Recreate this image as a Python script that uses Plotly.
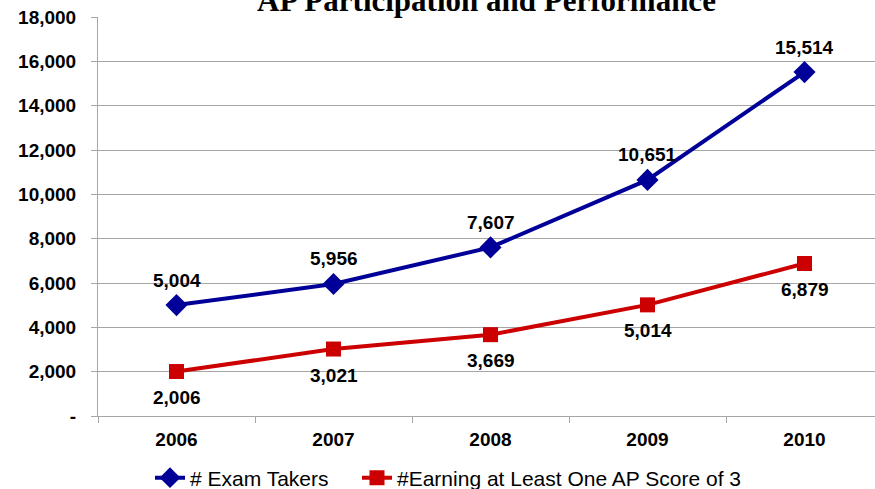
import plotly.graph_objects as go

years = ["2006", "2007", "2008", "2009", "2010"]
exam_takers = [5004, 5956, 7607, 10651, 15514]
earning_3 = [2006, 3021, 3669, 5014, 6879]
y_ticks = [0, 2000, 4000, 6000, 8000, 10000, 12000, 14000, 16000, 18000]
y_tick_text = ["-", "2,000", "4,000", "6,000", "8,000", "10,000", "12,000", "14,000", "16,000", "18,000"]

BLUE = "#000099"
RED = "#CC0000"
GRAY = "#A6A6A6"
SANS = "Liberation Sans, Arial, sans-serif"
LABEL_FONT = dict(family=SANS, size=19, color="#000000")

fig = go.Figure()
fig.add_trace(go.Scatter(
    x=years, y=exam_takers, name="# Exam Takers",
    mode="lines+markers",
    line=dict(color=BLUE, width=4),
    marker=dict(symbol="diamond", size=17, color=BLUE),
    cliponaxis=False, legend="legend",
))
fig.add_trace(go.Scatter(
    x=years, y=earning_3, name="#Earning at Least One AP Score of 3",
    mode="lines+markers",
    line=dict(color=RED, width=4),
    marker=dict(symbol="square", size=15, color=RED),
    cliponaxis=False, legend="legend2",
))

# value labels: above the blue points, below the red points
# (x given as the category index so "2006" isn't read as a position)
for i, v in enumerate(exam_takers):
    fig.add_annotation(x=i, y=v, text=f"<b>{v:,}</b>", showarrow=False,
                       yshift=25, font=LABEL_FONT)
for i, v in enumerate(earning_3):
    fig.add_annotation(x=i, y=v, text=f"<b>{v:,}</b>", showarrow=False,
                       yshift=-26, font=LABEL_FONT)

fig.add_annotation(
    text="<b>AP Participation and Performance</b>",
    xref="paper", yref="paper", x=0.5, y=1, xanchor="center", yanchor="bottom",
    yshift=-3, showarrow=False,
    font=dict(family="Liberation Serif, Times New Roman, serif", size=31, color="#000000"),
)

legend_common = dict(
    orientation="h", xref="container", yref="container",
    xanchor="left", y=11 / 489, yanchor="middle",
    font=dict(family=SANS, size=21, color="#000000"),
    itemwidth=30, bgcolor="rgba(0,0,0,0)",
)

fig.update_layout(
    width=875, height=489,
    margin=dict(l=98, r=0, t=17, b=73, autoexpand=False),
    paper_bgcolor="white", plot_bgcolor="white",
    showlegend=True,
    legend=dict(legend_common, x=150 / 875),
    legend2=dict(legend_common, x=357 / 875),
    xaxis=dict(
        type="category", range=[-0.5, 4.449],
        showline=True, linecolor=GRAY, linewidth=1,
        ticks="outside", tickson="boundaries", ticklen=6, tickcolor=GRAY,
        showgrid=False, zeroline=False,
        tickfont=dict(family=SANS, size=19, color="#000000"),
        ticklabelstandoff=6,
        tickprefix="<b>", ticksuffix="</b>",
    ),
    yaxis=dict(
        range=[0, 18000], tickvals=y_ticks, ticktext=[f"<b>{t}</b>" for t in y_tick_text],
        showline=True, linecolor=GRAY, linewidth=1,
        ticks="outside", ticklen=6, tickcolor=GRAY,
        showgrid=True, gridcolor=GRAY, gridwidth=1, zeroline=False,
        tickfont=dict(family=SANS, size=19, color="#000000"),
        ticklabelstandoff=11,
    ),
)

fig.write_html("out.html")
